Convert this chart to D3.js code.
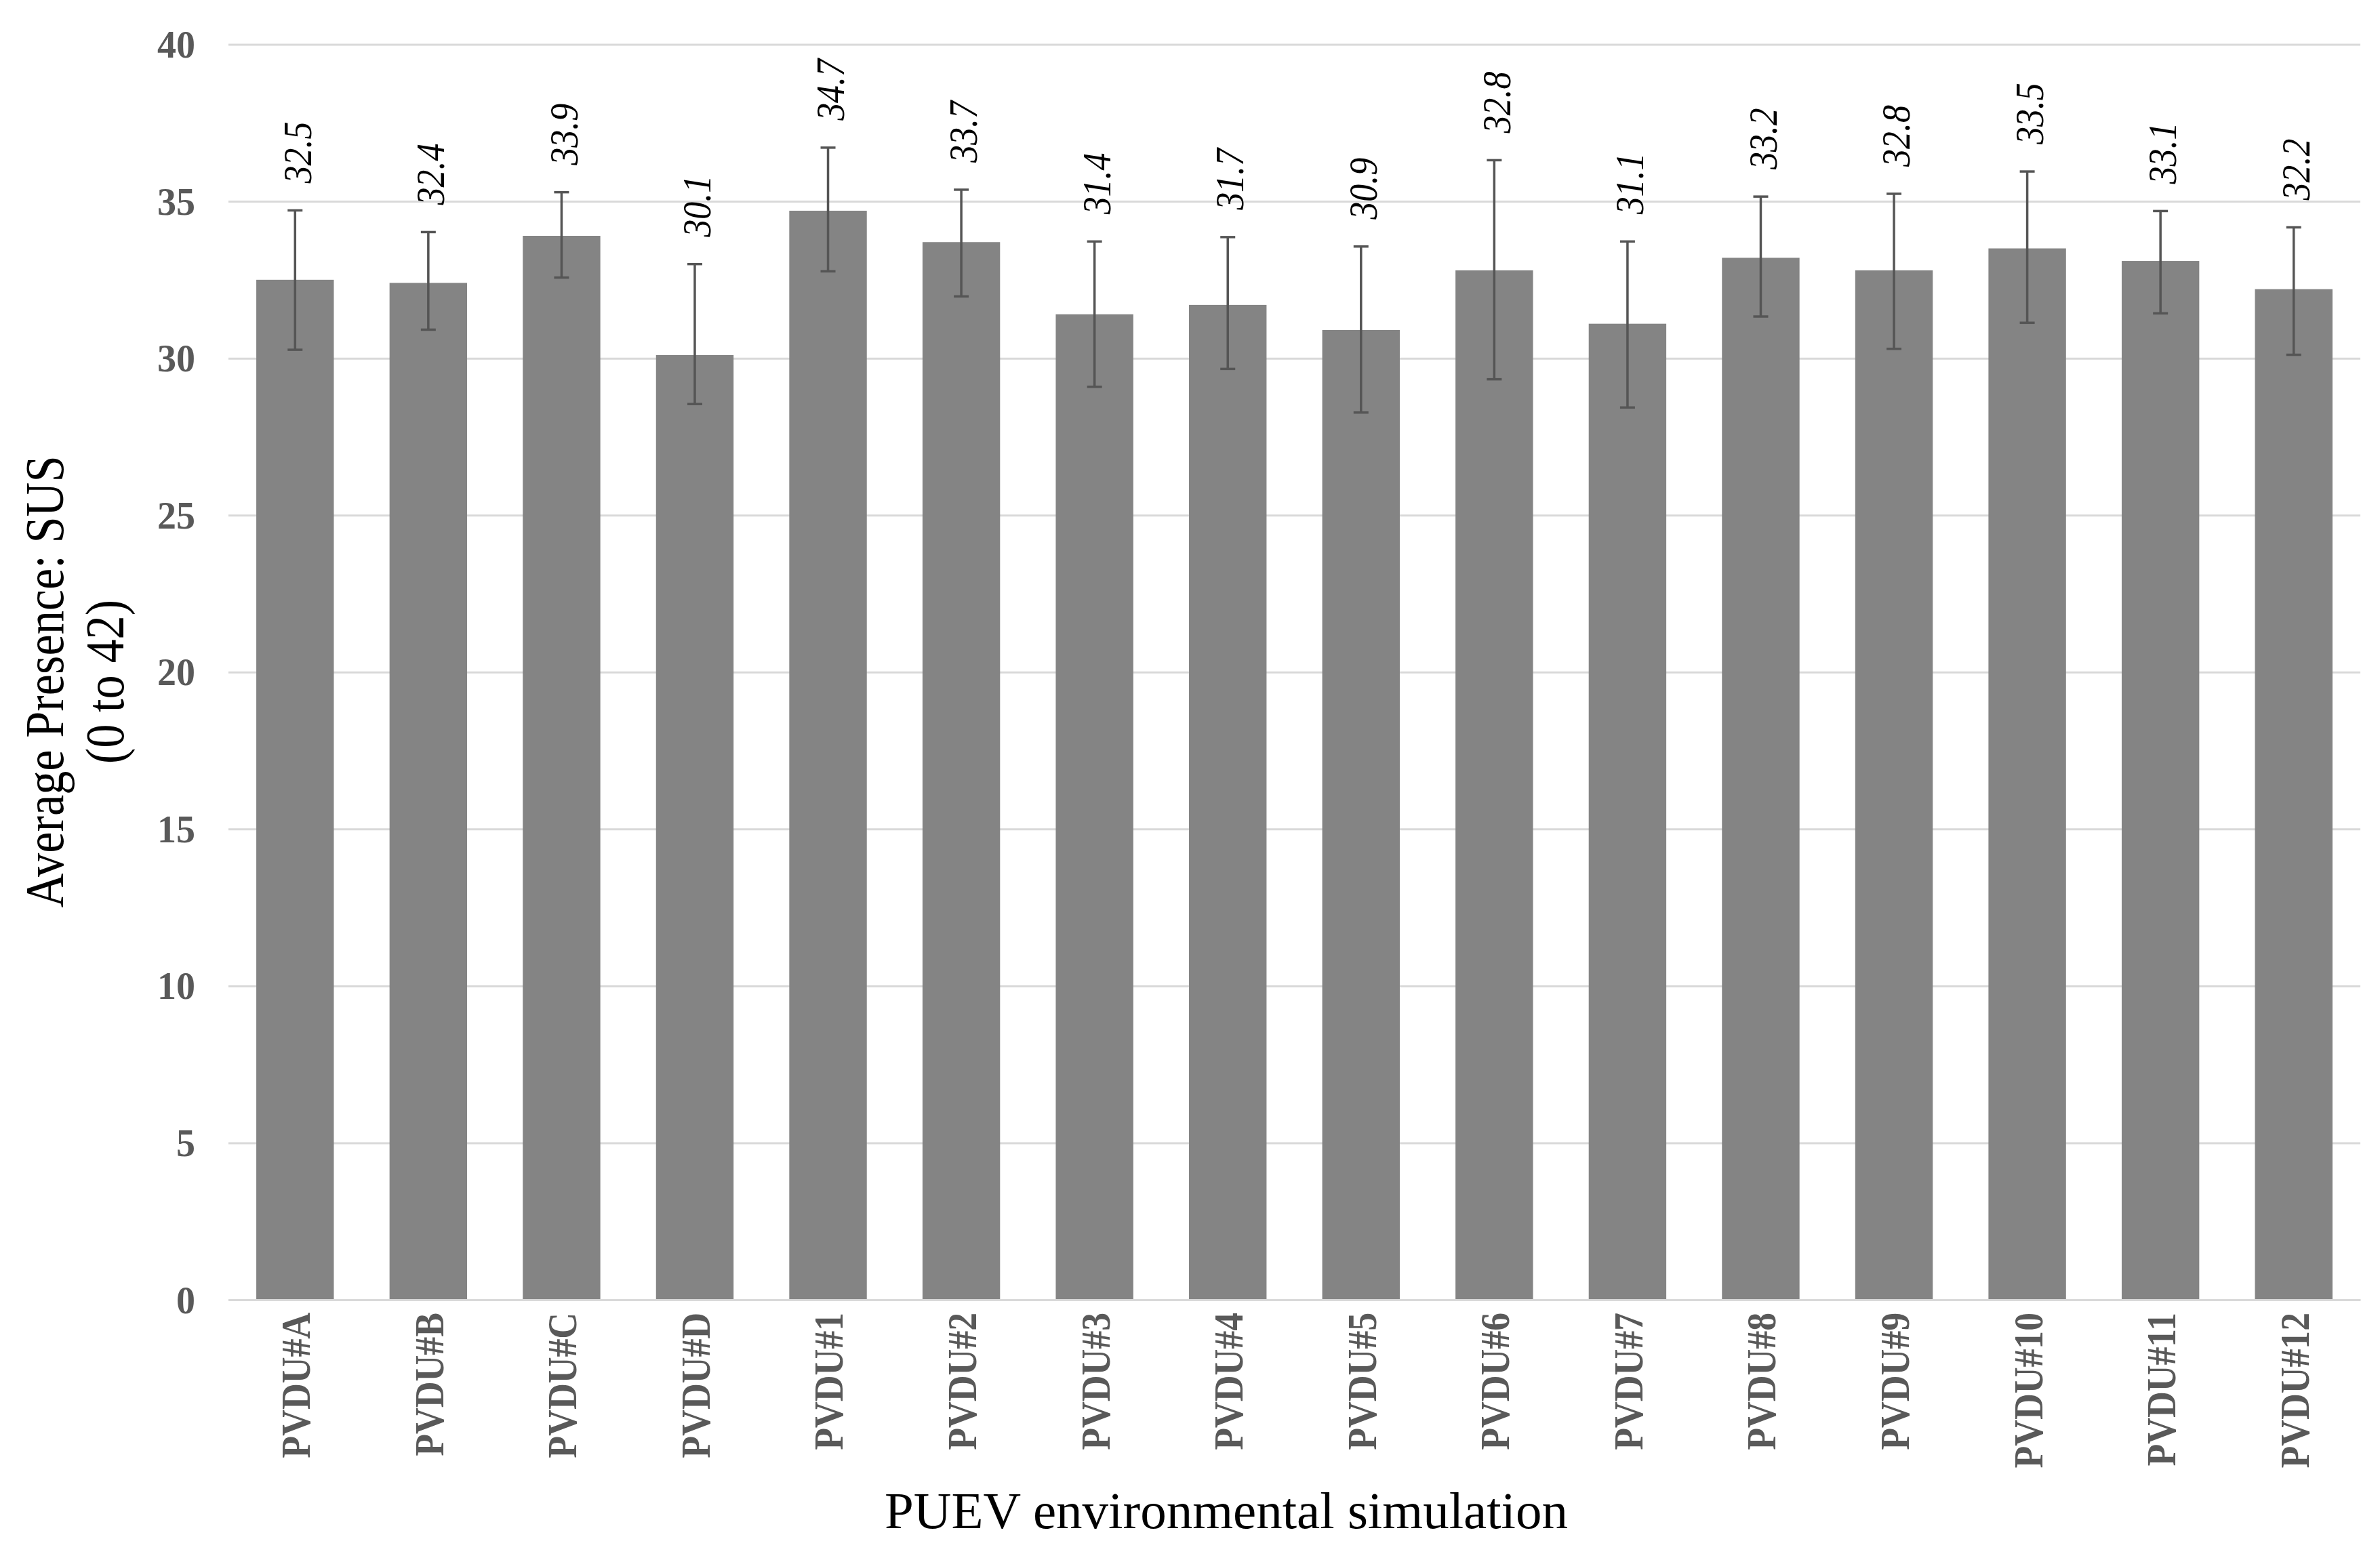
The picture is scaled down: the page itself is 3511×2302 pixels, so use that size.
<!DOCTYPE html>
<html>
<head>
<meta charset="utf-8">
<script src="https://cdn.jsdelivr.net/npm/d3@7"></script>
<style>
  html, body { margin: 0; padding: 0; background: #fff; }
  svg { display: block; }
</style>
</head>
<body>
<script>
const categories = ["PVDU#A","PVDU#B","PVDU#C","PVDU#D","PVDU#1","PVDU#2","PVDU#3","PVDU#4",
                    "PVDU#5","PVDU#6","PVDU#7","PVDU#8","PVDU#9","PVDU#10","PVDU#11","PVDU#12"];
const values    = [32.5, 32.4, 33.9, 30.1, 34.7, 33.7, 31.4, 31.7, 30.9, 32.8, 31.1, 33.2, 32.8, 33.5, 33.1, 32.2];
const errPlus   = [2.21, 1.62, 1.39, 2.90, 2.01, 1.67, 2.32, 2.16, 2.66, 3.51, 2.62, 1.95, 2.44, 2.45, 1.59, 1.97];
const errMinus  = [2.23, 1.49, 1.33, 1.56, 1.93, 1.73, 2.31, 2.04, 2.63, 3.47, 2.67, 1.87, 2.50, 2.37, 1.67, 2.09];
const yTicks    = [0, 5, 10, 15, 20, 25, 30, 35, 40];
const yTitleLines = ["Average Presence: SUS", "(0 to 42)"];
const xTitle    = "PUEV environmental simulation";

const W = 3511, H = 2302;
const FONT = "'Liberation Serif', 'Times New Roman', Times, serif";
const plot = { left: 337, right: 3482, top: 65.5, bottom: 1918 };

const svg = d3.select("body").append("svg").attr("width", W).attr("height", H)
  .style("font-family", FONT);
svg.append("rect").attr("width", W).attr("height", H).attr("fill", "#fff");

const x = d3.scaleBand().domain(categories).range([plot.left, plot.right])
  .paddingInner(0.418).paddingOuter(0.209);
const y = d3.scaleLinear().domain([0, 40]).range([plot.bottom, plot.top]);

// gridlines
const yAxis = d3.axisLeft(y).tickValues(yTicks).tickSize(-(plot.right - plot.left)).tickPadding(49);
const gy = svg.append("g").attr("transform", `translate(${plot.left},0)`).call(yAxis);
gy.select(".domain").remove();
gy.selectAll(".tick line").attr("stroke", "#d9d9d9").attr("stroke-width", 3);
gy.selectAll(".tick text").attr("fill", "#595959").attr("font-size", 56).attr("font-weight", "bold")
  .attr("font-family", FONT).attr("dy", "0.34em");

// bars
const data = categories.map((c, i) => ({ c, v: values[i], hi: values[i] + errPlus[i], lo: values[i] - errMinus[i] }));
svg.append("g").selectAll("rect").data(data).join("rect")
  .attr("x", d => x(d.c)).attr("width", x.bandwidth())
  .attr("y", d => y(d.v)).attr("height", d => y(0) - y(d.v))
  .attr("fill", "#848484");

// x axis line + labels
const xAxis = d3.axisBottom(x).tickSize(0).tickPadding(0);
const gx = svg.append("g").attr("transform", `translate(0,${plot.bottom})`).call(xAxis);
gx.select(".domain").attr("stroke", "#d9d9d9").attr("stroke-width", 3);
gx.selectAll(".tick text")
  .attr("font-family", FONT).attr("font-size", 61).attr("font-weight", "bold").attr("fill", "#595959")
  .attr("text-anchor", "end")
  .attr("transform", "translate(0,19) rotate(-90) scale(0.88,1)")
  .attr("x", 0).attr("y", 0).attr("dy", "0.36em");

// error bars
const eb = svg.append("g").attr("stroke", "#555555").attr("stroke-width", 3.5).attr("fill", "none");
const cx = d => x(d.c) + x.bandwidth() / 2;
eb.selectAll("line.stem").data(data).join("line").attr("class", "stem")
  .attr("x1", cx).attr("x2", cx).attr("y1", d => y(d.hi)).attr("y2", d => y(d.lo));
eb.selectAll("line.capt").data(data).join("line").attr("class", "capt")
  .attr("x1", d => cx(d) - 11).attr("x2", d => cx(d) + 11).attr("y1", d => y(d.hi)).attr("y2", d => y(d.hi));
eb.selectAll("line.capb").data(data).join("line").attr("class", "capb")
  .attr("x1", d => cx(d) - 11).attr("x2", d => cx(d) + 11).attr("y1", d => y(d.lo)).attr("y2", d => y(d.lo));

// value labels
svg.append("g").selectAll("text").data(data).join("text")
  .attr("transform", d => `translate(${cx(d) + 2},${y(d.hi) - 40}) rotate(-90) scale(0.88,1)`)
  .attr("dy", "0.36em")
  .attr("font-size", 59).attr("font-style", "italic").attr("fill", "#000")
  .attr("text-anchor", "start")
  .text(d => d.v.toFixed(1));

// y title
const yt = svg.append("text")
  .attr("transform", "translate(0,1006) rotate(-90) scale(0.88,1)")
  .attr("font-size", 80).attr("fill", "#000").attr("text-anchor", "middle");
yt.append("tspan").attr("x", 0).attr("y", 93).text(yTitleLines[0]);
yt.append("tspan").attr("x", 0).attr("y", 182).text(yTitleLines[1]);

// x title
svg.append("text").attr("x", 1809).attr("y", 2255)
  .attr("font-size", 77).attr("fill", "#000").attr("text-anchor", "middle")
  .text(xTitle);
</script>
</body>
</html>
